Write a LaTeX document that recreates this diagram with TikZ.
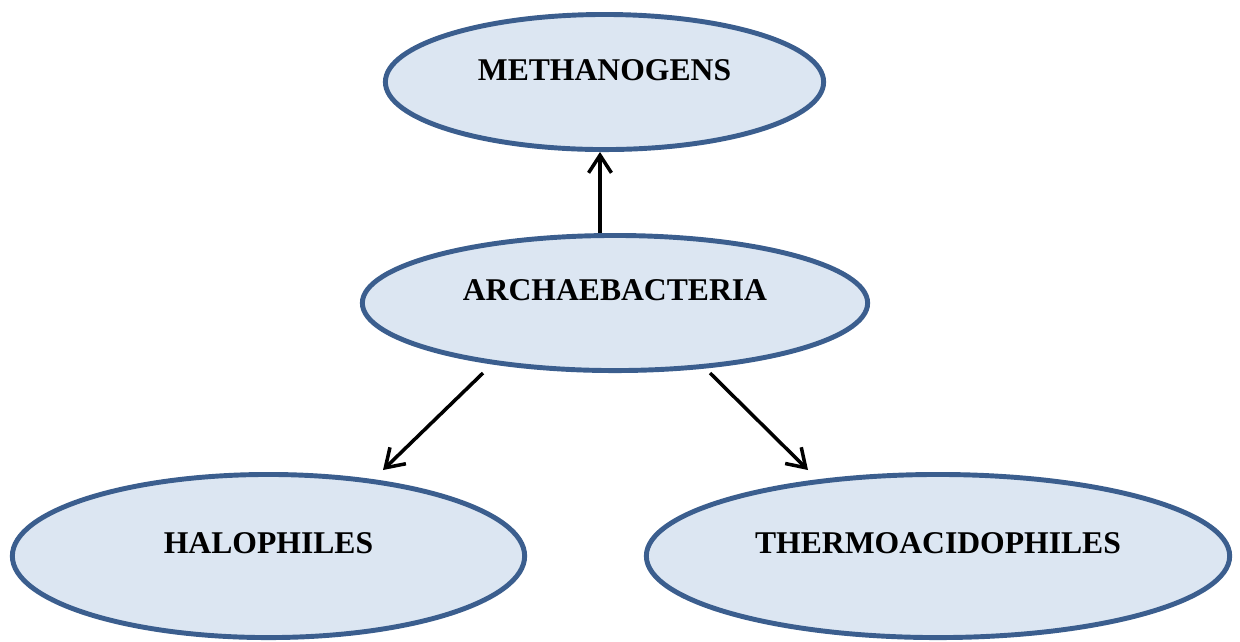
\documentclass[tikz,border=0pt]{standalone}
\usepackage{fontspec}
\setmainfont{Liberation Serif}
\usetikzlibrary{shapes.geometric,arrows.meta}
\definecolor{efill}{HTML}{DCE6F2}
\definecolor{eline}{HTML}{3B5E8E}
\begin{document}
\begin{tikzpicture}[x=0.01cm,y=-0.01cm,
  oval/.style={ellipse,draw=eline,fill=efill,line width=1.4pt,inner sep=0pt},
  lbl/.style={font=\fontsize{9}{11}\selectfont\bfseries,inner sep=0pt},
  arr/.style={line width=1pt,-{Straight Barb[length=5pt,width=6.5pt]}}]
\useasboundingbox (0,0) rectangle (1240,641);
\node[oval,minimum width=4.38cm,minimum height=1.35cm] (meth) at (604.5,82) {};
\node[lbl] (methl) at (604.5,70) {METHANOGENS};
\node[oval,minimum width=5.05cm,minimum height=1.35cm] (arch) at (615,303) {};
\node[lbl] (archl) at (615,290) {ARCHAEBACTERIA};
\node[oval,minimum width=5.12cm,minimum height=1.63cm] (halo) at (268.5,556) {};
\node[lbl] (halol) at (268.5,543) {HALOPHILES};
\node[oval,minimum width=5.83cm,minimum height=1.63cm] (thermo) at (938,556) {};
\node[lbl] (thermol) at (938,543) {THERMOACIDOPHILES};
\coordinate (a1) at (483,373);
\coordinate (h1) at (383,470);
\coordinate (a2) at (710,373);
\coordinate (t1) at (808,470);
\draw[arr] (arch.north -| 600,0) -- (meth.south -| 600,0);
\draw[arr] (a1) -- (h1);
\draw[arr] (a2) -- (t1);
\end{tikzpicture}
\end{document}
